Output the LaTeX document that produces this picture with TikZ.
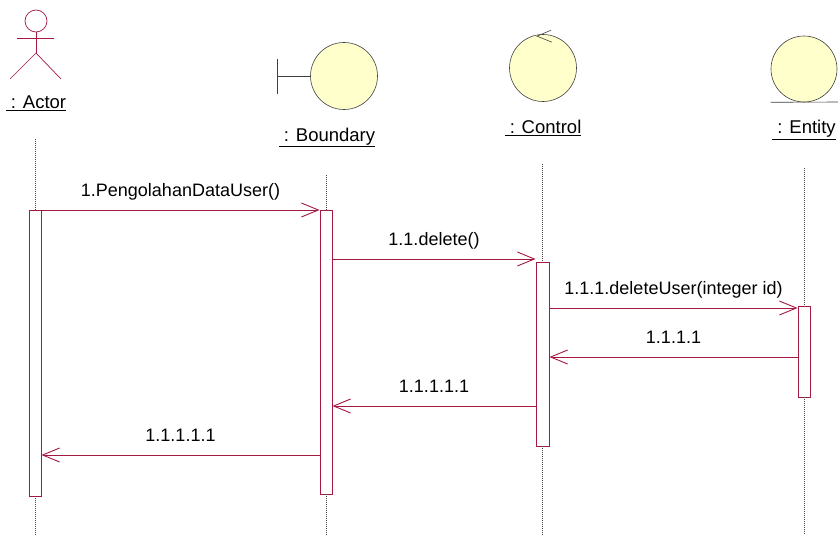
\documentclass[tikz,border=0pt]{standalone}
\usepackage{fontspec}
\setmainfont{Liberation Sans}
\usetikzlibrary{arrows.meta,positioning}
\definecolor{seqred}{RGB}{165,25,65}
\definecolor{objfill}{RGB}{255,255,204}
\definecolor{lifegrey}{RGB}{70,70,70}

\begin{document}
\begin{tikzpicture}[x=1pt,y=-1pt,
  act/.style={draw=seqred, fill=white, line width=0.9pt, minimum width=12pt, inner sep=0pt},
  msg/.style={draw=seqred, line width=0.9pt, -{Straight Barb[length=17pt,width=14pt]}},
  msglbl/.style={midway, above=13pt, inner sep=0pt, text depth=0pt, font=\fontsize{18}{20}\selectfont},
  life/.style={lifegrey, line width=0.5pt, dash pattern=on 1pt off 1pt},
  obj/.style={circle, draw=black!75, fill=objfill, line width=0.6pt, minimum size=67pt, inner sep=0pt},
  objlbl/.style={inner sep=0pt, font=\fontsize{18.5}{20}\selectfont}]
  \fill[white] (0,0) rectangle (838,535);
  \useasboundingbox (0,0) rectangle (838,535);
  \coordinate (bottom) at (0,535);
  % message rows
  \foreach \i in {1,...,6}
    \coordinate (m\i) at (0,161+49*\i);

  % actor
  \node[circle, draw=seqred, line width=0.7pt, minimum size=22pt, inner sep=0pt] (head) at (36,21) {};
  \coordinate (hip) at (36,53);
  \draw[seqred, line width=0.7pt] (head.south) -- (hip);
  \draw[seqred, line width=0.7pt] (17,38) -- (54,38);
  \draw[seqred, line width=0.7pt] (10,79) -- (hip) -- (61,79);
  \coordinate (feet) at (36,79);
  \node[objlbl, below=17pt of feet] (actlbl) {\underline{\ : Actor}};

  % boundary
  \node[obj] (bnd) at (344,76) {};
  \coordinate (bbar) at ([xshift=-33pt]bnd.west);
  \draw[black!75, line width=0.6pt] (bnd.west) -- (bbar);
  \draw[black!75, line width=0.6pt] ([yshift=17pt]bbar) -- ([yshift=-18pt]bbar);
  \node[objlbl, below=18pt of bnd, xshift=-17pt] (bndlbl) {\underline{\ : Boundary}};

  % control
  \node[obj] (ctl) at (543,68) {};
  \draw[black!75, line width=0.6pt] ([shift={(8,-4)}]ctl.north) -- ([shift={(-6,2)}]ctl.north) -- ([shift={(9,8)}]ctl.north);
  \node[objlbl, below=18pt of ctl] (ctllbl) {\underline{\ : Control}};

  % entity
  \node[obj, minimum size=66pt] (ent) at (804,69) {};
  \draw[black!75, line width=0.6pt] (ent.south -| ent.west) -- (838,102);
  \node[objlbl, below=18pt of ent] (entlbl) {\underline{\ : Entity}};

  % activations
  \node[act, minimum height=286pt] (actA) at (35,353) {};
  \node[act, minimum height=284pt] (actB) at (326,352) {};
  \node[act, minimum width=13pt, minimum height=184pt] (actC) at (542.5,354) {};
  \node[act, minimum height=91pt] (actD) at (804,351.5) {};

  % lifelines
  \foreach \l/\a in {actlbl/actA, bndlbl/actB, ctllbl/actC, entlbl/actD}{
    \coordinate (top) at ([yshift=-28pt]\l.south);
    \draw[life] (top -| \a) -- (\a.north);
    \draw[life] (\a.south) -- (bottom -| \a);
  }

  % messages
  \draw[msg] (actA.east |- m1) -- node[msglbl] {1.PengolahanDataUser()} (actB.west |- m1);
  \draw[msg] (actB.east |- m2) -- node[msglbl] {1.1.delete()} (actC.west |- m2);
  \draw[msg] (actC.east |- m3) -- node[msglbl] {1.1.1.deleteUser(integer id)} (actD.west |- m3);
  \draw[msg] (actD.west |- m4) -- node[msglbl] {1.1.1.1} (actC.east |- m4);
  \draw[msg] (actC.west |- m5) -- node[msglbl] {1.1.1.1.1} (actB.east |- m5);
  \draw[msg] (actB.west |- m6) -- node[msglbl] {1.1.1.1.1} (actA.east |- m6);
\end{tikzpicture}
\end{document}
